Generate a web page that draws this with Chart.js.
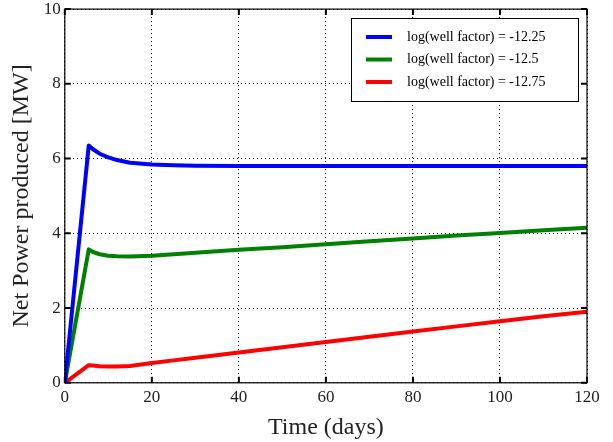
<!DOCTYPE html>
<html>
<head>
<meta charset="utf-8">
<script src="https://cdn.jsdelivr.net/npm/chart.js@4"></script>
<style>
	html, body { margin: 0; padding: 0; background: #fff; }
	#chart { display: block; }
</style>
</head>
<body>
<canvas id="chart" width="613" height="442"></canvas>
<script>
const days = [0, 5.5, 6.5, 8, 10, 12, 15, 20, 25, 30, 40, 50, 60, 70, 80, 90, 100, 110, 120];

const power1225 = [0, 6.35, 6.25, 6.13, 6.03, 5.96, 5.89, 5.84, 5.82, 5.81, 5.8, 5.8, 5.8, 5.8, 5.8, 5.8, 5.8, 5.8, 5.8];
const power125 = [0, 3.57, 3.5, 3.44, 3.4, 3.385, 3.38, 3.4, 3.44, 3.48, 3.56, 3.63, 3.71, 3.79, 3.86, 3.94, 4.01, 4.08, 4.15];
const power1275 = [0, 0.47, 0.46, 0.445, 0.435, 0.435, 0.45, 0.53, 0.6, 0.67, 0.81, 0.95, 1.09, 1.23, 1.37, 1.51, 1.65, 1.78, 1.9];

const seriesLabels = ["log(well factor) = -12.25", "log(well factor) = -12.5", "log(well factor) = -12.75"];
const seriesColors = ["#0000ff", "#008000", "#ff0000"];

const xTicks = [0, 20, 40, 60, 80, 100, 120];
const yTicks = [0, 2, 4, 6, 8, 10];

const serif = "'Liberation Serif', 'DejaVu Serif', serif";

function toPoints(values)
{
	return values.map((v, i) => ({ x: days[i], y: v }));
}

// inward major ticks on all four sides, like matplotlib
const tickMarks =
{
	id: "tickMarks",
	afterDraw(chart)
	{
		const ctx = chart.ctx;
		const area = chart.chartArea;
		const xs = chart.scales.x;
		const ys = chart.scales.y;
		const len = 6;

		ctx.save();
		ctx.strokeStyle = "#000";
		ctx.lineWidth = 2;
		ctx.beginPath();
		for(const t of xTicks)
		{
			const px = xs.getPixelForValue(t);
			ctx.moveTo(px, area.bottom); ctx.lineTo(px, area.bottom - len);
			ctx.moveTo(px, area.top); ctx.lineTo(px, area.top + len);
		}
		for(const t of yTicks)
		{
			const py = ys.getPixelForValue(t);
			ctx.moveTo(area.left, py); ctx.lineTo(area.left + len, py);
			ctx.moveTo(area.right, py); ctx.lineTo(area.right - len, py);
		}
		ctx.stroke();

		ctx.lineWidth = 1.2;
		ctx.strokeRect(area.left, area.top, area.right - area.left, area.bottom - area.top);
		ctx.restore();
	}
};

// legend box inside the plot, top right
const boxLegend =
{
	id: "boxLegend",
	afterDraw(chart)
	{
		const ctx = chart.ctx;
		const left = 351, top = 18, width = 227, height = 83;

		ctx.save();
		ctx.fillStyle = "#fff";
		ctx.fillRect(left, top, width, height);
		ctx.strokeStyle = "#000";
		ctx.lineWidth = 1;
		ctx.strokeRect(left + 0.5, top + 0.5, width, height);

		ctx.font = "14px " + serif;
		ctx.textBaseline = "middle";
		chart.data.datasets.forEach((ds, i) =>
		{
			const y = top + 19 + i * 22.5;
			ctx.strokeStyle = ds.borderColor;
			ctx.lineWidth = 4;
			ctx.beginPath();
			ctx.moveTo(left + 15, y);
			ctx.lineTo(left + 41, y);
			ctx.stroke();
			ctx.fillStyle = "#000";
			ctx.fillText(ds.label, left + 56, y);
		});
		ctx.restore();
	}
};

new Chart(document.getElementById("chart"),
{
	type: "line",
	data:
	{
		datasets: [power1225, power125, power1275].map((values, i) => ({
			label: seriesLabels[i],
			data: toPoints(values),
			borderColor: seriesColors[i],
			backgroundColor: seriesColors[i],
			borderWidth: 4,
			pointRadius: 0,
			tension: 0,
			borderJoinStyle: "round"
		}))
	},
	options:
	{
		responsive: false,
		animation: false,
		layout: { padding: { top: 0, right: 26, left: 7, bottom: 0 } },
		plugins: { legend: { display: false }, tooltip: { enabled: false } },
		scales:
		{
			x:
			{
				type: "linear",
				min: 0,
				max: 120,
				afterBuildTicks: scale => { scale.ticks = xTicks.map(v => ({ value: v })); },
				grid: { color: "#000", lineWidth: 1, drawTicks: false },
				border: { display: false, dash: [1, 3] },
				ticks: { color: "#222", padding: 5, font: { family: serif, size: 17 } },
				title: { display: true, text: "Time (days)", color: "#222", padding: { top: 0, bottom: 0 }, font: { family: serif, size: 24 } }
			},
			y:
			{
				min: 0,
				max: 10,
				afterBuildTicks: scale => { scale.ticks = yTicks.map(v => ({ value: v })); },
				grid: { color: "#000", lineWidth: 1, drawTicks: false },
				border: { display: false, dash: [1, 3] },
				ticks: { color: "#222", padding: 4, font: { family: serif, size: 17, lineHeight: 0.6 } },
				title: { display: true, text: "Net Power produced [MW]", color: "#222", padding: { top: 0, bottom: 4 }, font: { family: serif, size: 24 } }
			}
		}
	},
	plugins: [tickMarks, boxLegend]
});
</script>
</body>
</html>
